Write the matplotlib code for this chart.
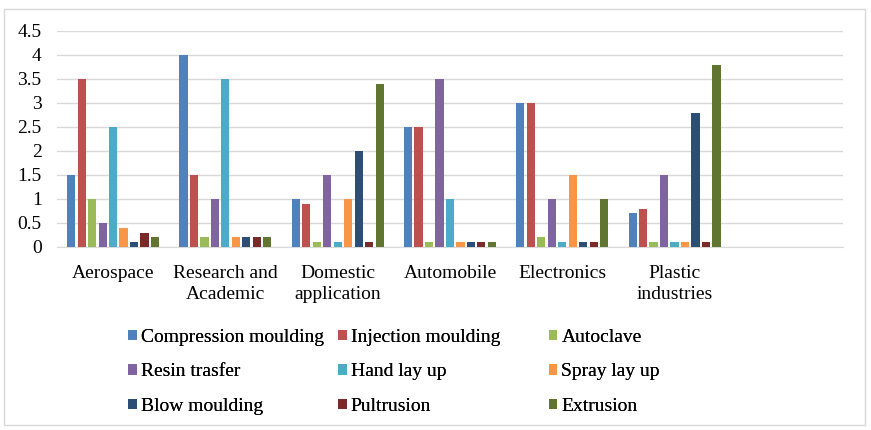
import matplotlib.pyplot as plt
import numpy as np
from matplotlib.patches import Rectangle

plt.rcParams["font.family"] = ["Liberation Serif", "DejaVu Serif"]

categories = ["Aerospace", "Research and\nAcademic", "Domestic\napplication",
              "Automobile", "Electronics", "Plastic\nindustries", ""]
series = ["Compression moulding", "Injection moulding", "Autoclave",
          "Resin trasfer", "Hand lay up", "Spray lay up",
          "Blow moulding", "Pultrusion", "Extrusion"]
# values per category, in series order (last category is empty)
aerospace = [1.5, 3.5, 1.0, 0.5, 2.5, 0.4, 0.1, 0.3, 0.2]
research = [4.0, 1.5, 0.2, 1.0, 3.5, 0.2, 0.2, 0.2, 0.2]
domestic = [1.0, 0.9, 0.1, 1.5, 0.1, 1.0, 2.0, 0.1, 3.4]
automobile = [2.5, 2.5, 0.1, 3.5, 1.0, 0.1, 0.1, 0.1, 0.1]
electronics = [3.0, 3.0, 0.2, 1.0, 0.1, 1.5, 0.1, 0.1, 1.0]
plastic = [0.7, 0.8, 0.1, 1.5, 0.1, 0.1, 2.8, 0.1, 3.8]
colors = ["#4F81BD", "#C0504D", "#9BBB59", "#8064A2", "#4BACC6",
          "#F79646", "#2C4D75", "#772C2A", "#5F7530"]

values = np.array([aerospace, research, domestic, automobile,
                   electronics, plastic]).T

fig = plt.figure(figsize=(8.71, 4.30), dpi=100)
fig.patches.append(Rectangle((0.005, 0.012), 0.988, 0.968, transform=fig.transFigure,
                             fill=False, edgecolor="#D9D9D9", linewidth=1))
ax = fig.add_axes([0.0654, 0.4256, 0.9024, 0.5024])

x = np.arange(len(categories))
n = len(series)
slot = 0.84 / n
width = slot * 0.78
handles = []
for i, name in enumerate(series):
    pos = x[:values.shape[1]] - 0.42 + slot * (i + 0.5)
    h = ax.bar(pos, values[i], width=width, color=colors[i], label=name, zorder=3)
    handles.append(h)

ax.set_xlim(-0.5, len(categories) - 0.5)
ax.set_ylim(0, 4.5)
ax.set_yticks(np.arange(0, 4.6, 0.5))
ax.set_yticklabels(["0", "0.5", "1", "1.5", "2", "2.5", "3", "3.5", "4", "4.5"])
ax.set_xticks(x)
ax.set_xticklabels(categories, linespacing=1.3)
ax.tick_params(axis="both", length=0, labelsize=14)
ax.tick_params(axis="x", pad=13)
ax.tick_params(axis="y", pad=11)
ax.yaxis.grid(True, color="#D9D9D9", linewidth=1, zorder=0)
for s in ["top", "right", "left"]:
    ax.spines[s].set_visible(False)
ax.spines["bottom"].set_color("#D9D9D9")

# Excel style legend: three equal-width columns
col_x = [0.147, 0.388, 0.630]
for c in range(3):
    leg = fig.legend(handles=handles[c::3], labels=series[c::3], loc="upper left",
                     bbox_to_anchor=(col_x[c], 0.235), frameon=False, fontsize=14,
                     handlelength=0.45, handleheight=0.45, handletextpad=0.2,
                     labelspacing=0.9, borderaxespad=0, borderpad=0)
    fig.add_artist(leg)

fig.savefig("out.png", dpi=100)
